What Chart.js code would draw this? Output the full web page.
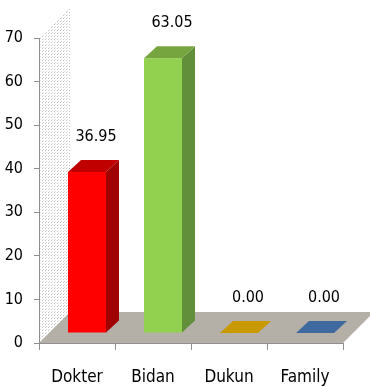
<!DOCTYPE html>
<html>
<head>
<meta charset="utf-8">
<script src="https://cdn.jsdelivr.net/npm/chart.js@4.4.0/dist/chart.umd.min.js"></script>
<style>
  html, body { margin: 0; padding: 0; background: #fff; }
</style>
</head>
<body>
<canvas id="myChart" width="370" height="386"></canvas>
<script>
'use strict'

const categories = ['Dokter', 'Bidan', 'Dukun', 'Family'];
const values = [36.95, 63.05, 0.00, 0.00];
const yTicks = [0, 10, 20, 30, 40, 50, 60, 70];

const frontColors = ['#ff0000', '#92d050', '#c89a00', '#3f6aa0'];
const topColors = ['#c00000', '#76a540', '#c89a00', '#3f6aa0'];
const sideColors = ['#a00000', '#62903a', '#a07a00', '#2f5080'];

const FONT = '"Liberation Sans Narrow", "DejaVu Sans Condensed", "Liberation Sans", sans-serif';
const DEPTH = 31;   // 奥行き（床・壁）
const SHIFT = 10;   // 棒を奥へずらす量
const BX = 13, BY = 12; // 棒の奥行き

// 壁の点模様
function dotPattern (ctx) {
    const c = document.createElement('canvas');
    c.width = 3; c.height = 3;
    const p = c.getContext('2d');
    p.fillStyle = '#ffffff';
    p.fillRect(0, 0, 3, 3);
    p.fillStyle = '#c4c4c4';
    p.fillRect(0, 0, 1, 1);
    p.fillStyle = '#dcdcdc';
    p.fillRect(1, 2, 1, 1);
    return ctx.createPattern(c, 'repeat');
}

function poly (ctx, pts, color) {
    ctx.beginPath();
    ctx.moveTo(pts[0][0], pts[0][1]);
    for (let i = 1; i < pts.length; i++) ctx.lineTo(pts[i][0], pts[i][1]);
    ctx.closePath();
    ctx.fillStyle = color;
    ctx.fill();
}

const box3d = {
    id: 'box3d',
    beforeDraw (chart) {
        const ctx = chart.ctx;
        const a = chart.chartArea;
        ctx.save();
        // 左の壁
        poly(ctx, [[a.left, a.bottom], [a.left, a.top], [a.left + DEPTH, a.top - DEPTH + 1], [a.left + DEPTH, a.bottom - DEPTH]], dotPattern(ctx));
        // 床
        poly(ctx, [[a.left, a.bottom], [a.right, a.bottom], [a.right + DEPTH, a.bottom - DEPTH], [a.left + DEPTH, a.bottom - DEPTH]], '#b4b0a8');
        ctx.restore();
    },
    beforeDatasetsDraw (chart) {
        chart.ctx.save();
        chart.ctx.translate(SHIFT, -SHIFT);
    },
    afterDatasetsDraw (chart) {
        const ctx = chart.ctx;
        const meta = chart.getDatasetMeta(0);
        meta.data.forEach((bar, i) => {
            const l = bar.x - bar.width / 2;
            const r = bar.x + bar.width / 2;
            poly(ctx, [[r, bar.y], [r + BX, bar.y - BY], [r + BX, bar.base - BY], [r, bar.base]], sideColors[i]);
            poly(ctx, [[l, bar.y], [r, bar.y], [r + BX, bar.y - BY], [l + BX, bar.y - BY]], topColors[i]);
        });
        ctx.restore();

        // 数値ラベル
        ctx.save();
        ctx.font = '16px ' + FONT;
        ctx.fillStyle = '#000';
        ctx.textAlign = 'center';
        ctx.textBaseline = 'alphabetic';
        meta.data.forEach((bar, i) => {
            ctx.fillText(values[i].toFixed(2), bar.x + SHIFT + BX / 2 + 2.5, bar.y - SHIFT - BY - 19);
        });
        ctx.restore();
    }
};

const ctx = document.getElementById('myChart');

new Chart(ctx, {
    type: 'bar',
    data: {
        labels: categories,
        datasets: [{
            data: values,
            backgroundColor: frontColors,
            borderWidth: 0,
            barPercentage: 0.5,
            categoryPercentage: 1
        }]
    },
    options: {
        responsive: false,
        animation: false,
        layout: { padding: { top: 38, right: 27, left: 0, bottom: 0 } },
        plugins: {
            legend: { display: false },
            tooltip: { enabled: false }
        },
        scales: {
            x: {
                grid: { offset: true, drawOnChartArea: false, tickLength: 7, color: '#909090' },
                border: { display: true, color: '#909090' },
                ticks: { color: '#000', font: { family: FONT, size: 17 }, padding: 17 },
                afterFit (scale) { scale.height = 43; }
            },
            y: {
                min: 0,
                max: 70,
                grid: { drawOnChartArea: false, tickLength: 5, color: '#909090' },
                border: { display: true, color: '#909090' },
                ticks: { color: '#000', font: { family: FONT, size: 16 }, padding: 11 },
                afterBuildTicks (scale) { scale.ticks = yTicks.map(v => ({ value: v })); },
                afterFit (scale) { scale.width = 39; }
            }
        }
    },
    plugins: [box3d]
});
</script>
</body>
</html>
